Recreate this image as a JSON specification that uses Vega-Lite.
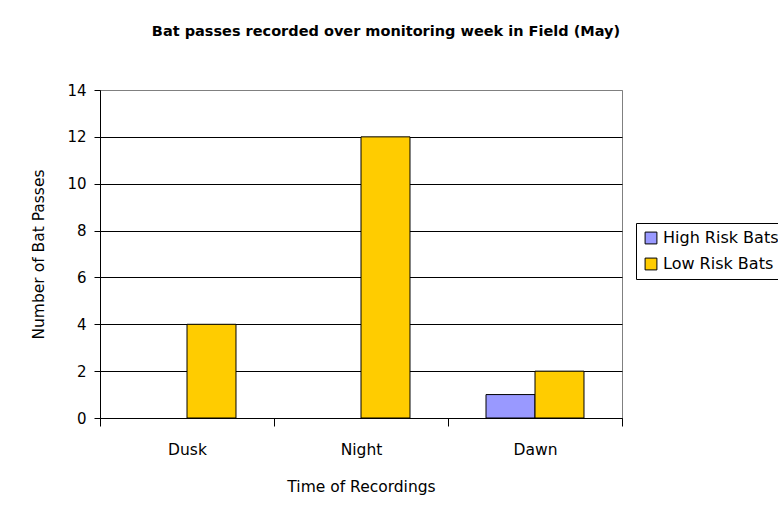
{
  "$schema": "https://vega.github.io/schema/vega-lite/v6.json",
  "autosize": "none",
  "width": 522,
  "height": 328,
  "padding": {"left": 100, "top": 90, "right": 156, "bottom": 99},
  "background": "white",
  "title": {
    "text": "Bat passes recorded over monitoring week in Field (May)",
    "font": "DejaVu Sans",
    "fontSize": 14.5,
    "fontWeight": "bold",
    "color": "black",
    "anchor": "middle",
    "dx": 25,
    "offset": 44
  },
  "data": {
    "values": [
      {"time": "Dusk", "risk": "High Risk Bats", "passes": 0},
      {"time": "Dusk", "risk": "Low Risk Bats", "passes": 4},
      {"time": "Night", "risk": "High Risk Bats", "passes": 0},
      {"time": "Night", "risk": "Low Risk Bats", "passes": 12},
      {"time": "Dawn", "risk": "High Risk Bats", "passes": 1},
      {"time": "Dawn", "risk": "Low Risk Bats", "passes": 2}
    ]
  },
  "mark": {"type": "bar", "stroke": "black", "strokeWidth": 1},
  "encoding": {
    "x": {
      "field": "time",
      "type": "nominal",
      "sort": ["Dusk", "Night", "Dawn"],
      "scale": {"paddingInner": 0, "paddingOuter": 0},
      "axis": {
        "title": "Time of Recordings",
        "labelAngle": 0,
        "tickBand": "extent",
        "tickSize": 8,
        "tickColor": "black",
        "domainColor": "black",
        "labelPadding": 16,
        "labelFontSize": 15.5,
        "titleFontSize": 15.5,
        "titleFontWeight": "normal",
        "titlePadding": 22,
        "labelFont": "DejaVu Sans",
        "titleFont": "DejaVu Sans",
        "labelColor": "black",
        "titleColor": "black"
      }
    },
    "xOffset": {
      "field": "risk",
      "type": "nominal",
      "scale": {"paddingInner": 0, "paddingOuter": 0.776}
    },
    "y": {
      "field": "passes",
      "type": "quantitative",
      "scale": {"domain": [0, 14]},
      "axis": {
        "title": "Number of Bat Passes",
        "values": [0, 2, 4, 6, 8, 10, 12, 14],
        "grid": true,
        "gridColor": {"condition": {"test": "datum.value == 14", "value": "#808080"}, "value": "black"},
        "gridWidth": 1,
        "tickSize": 6,
        "tickColor": "black",
        "domainColor": "black",
        "labelPadding": 8,
        "labelFontSize": 15,
        "titleFontSize": 15.5,
        "titleFontWeight": "normal",
        "titlePadding": 20,
        "labelFont": "DejaVu Sans",
        "titleFont": "DejaVu Sans",
        "labelColor": "black",
        "titleColor": "black"
      }
    },
    "fill": {
      "field": "risk",
      "type": "nominal",
      "scale": {"domain": ["High Risk Bats", "Low Risk Bats"], "range": ["#9999FF", "#FFCC00"]},
      "legend": {
        "title": null,
        "orient": "none",
        "legendX": 536,
        "legendY": 133,
        "symbolType": "square",
        "symbolSize": 140,
        "symbolStrokeColor": "black",
        "symbolStrokeWidth": 1,
        "labelFontSize": 16,
        "labelFont": "DejaVu Sans",
        "labelColor": "black",
        "labelLimit": 300,
        "rowPadding": 10,
        "padding": 7,
        "strokeColor": "black",
        "fillColor": "white"
      }
    },
    "strokeOpacity": {
      "condition": {"test": "datum.passes == 0", "value": 0},
      "value": 1
    }
  },
  "config": {
    "view": {"stroke": "#808080", "strokeWidth": 1}
  }
}
